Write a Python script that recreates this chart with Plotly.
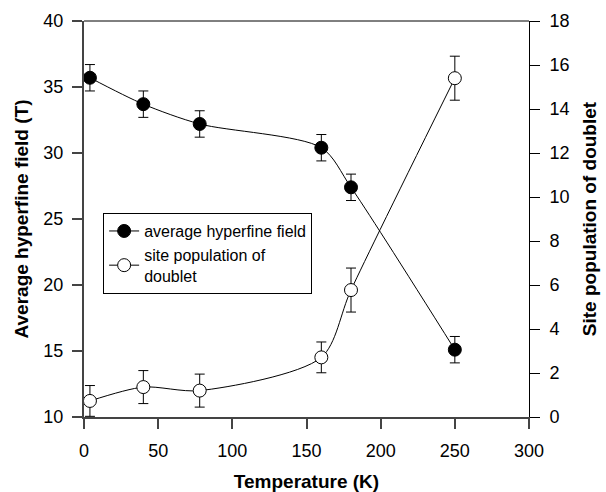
import plotly.graph_objects as go

temperature = [4, 40, 78, 160, 180, 250]
hyperfine_field = [35.7, 33.7, 32.2, 30.4, 27.4, 15.1]
hyperfine_err = [1.0, 1.0, 1.0, 1.0, 1.0, 1.0]
doublet_pop = [0.73, 1.36, 1.2, 2.71, 5.77, 15.4]
doublet_err = [0.7, 0.75, 0.75, 0.7, 1.0, 1.0]

x_ticks = [0, 50, 100, 150, 200, 250, 300]
y1_ticks = [10, 15, 20, 25, 30, 35, 40]
y2_ticks = [0, 2, 4, 6, 8, 10, 12, 14, 16, 18]

FONT = "Liberation Sans, Arial, sans-serif"

fig = go.Figure()

fig.add_trace(go.Scatter(
    x=temperature, y=hyperfine_field,
    mode="lines+markers",
    name="average hyperfine field",
    line=dict(color="black", width=1, shape="spline", smoothing=0.8),
    marker=dict(size=13, color="black", line=dict(color="black", width=1)),
    error_y=dict(type="data", array=hyperfine_err, visible=True,
                 color="black", thickness=1, width=5),
    yaxis="y",
))

fig.add_trace(go.Scatter(
    x=temperature, y=doublet_pop,
    mode="lines+markers",
    name="site population of<br>doublet",
    line=dict(color="black", width=1, shape="spline", smoothing=0.8),
    marker=dict(size=13, color="white", line=dict(color="black", width=1)),
    error_y=dict(type="data", array=doublet_err, visible=True,
                 color="black", thickness=1, width=5),
    yaxis="y2",
))

fig.update_layout(
    width=606, height=492,
    margin=dict(l=84, r=77, t=21, b=75),
    paper_bgcolor="white", plot_bgcolor="white",
    font=dict(family=FONT, size=18, color="black"),
    showlegend=True,
    legend=dict(
        x=0.043, y=0.515, xanchor="left", yanchor="top",
        bordercolor="black", borderwidth=1, bgcolor="white",
        font=dict(size=16, family=FONT),
        tracegroupgap=0, itemwidth=30,
    ),
    xaxis=dict(
        range=[0, 300], tickvals=x_ticks, automargin=False,
        showgrid=False, zeroline=False,
        showline=True, linecolor="#444", linewidth=2,
        ticks="outside", ticklen=10, tickwidth=1.5, tickcolor="#444",
        ticklabelstandoff=6,
        tickfont=dict(size=18),
        title=dict(text="<b>Temperature (K)</b>", font=dict(size=19), standoff=16),
    ),
    yaxis=dict(
        range=[10, 40], tickvals=y1_ticks, automargin=False,
        showgrid=False, zeroline=False,
        showline=True, linecolor="#444", linewidth=2,
        ticks="outside", ticklen=10, tickwidth=1.5, tickcolor="#444",
        ticklabelstandoff=5,
        tickfont=dict(size=18),
        title=dict(text="<b>Average hyperfine field (T)</b>", font=dict(size=19), standoff=10),
    ),
    yaxis2=dict(
        range=[0, 18], tickvals=y2_ticks, automargin=False,
        overlaying="y", side="right",
        showgrid=False, zeroline=False,
        showline=True, linecolor="black", linewidth=1,
        ticks="outside", ticklen=10, tickwidth=1, tickcolor="black",
        ticklabelstandoff=6,
        tickfont=dict(size=18),
        title=dict(text="<b>Site population of doublet</b>", font=dict(size=19), standoff=14),
    ),
    shapes=[dict(type="line", xref="paper", yref="paper", x0=0, x1=1, y0=1, y1=1,
                 line=dict(color="black", width=1))],
)

fig.write_html("out.html")
